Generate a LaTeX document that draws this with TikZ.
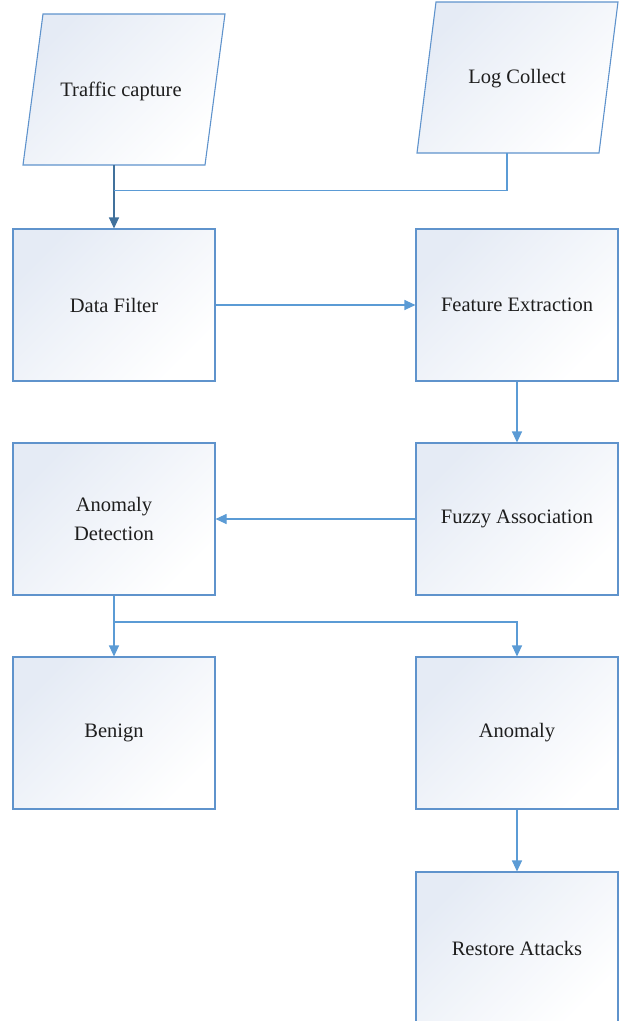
\documentclass[tikz,border=0pt]{standalone}
\usepackage{fontspec}
\setmainfont{Liberation Serif}
\usetikzlibrary{arrows.meta}
\definecolor{edgeblue}{HTML}{5F93CC}
\definecolor{linkblue}{HTML}{5B9BD5}
\definecolor{darklink}{HTML}{41719C}
\definecolor{paleblue}{HTML}{E5EBF5}
\definecolor{softblue}{HTML}{F8F9FC}
\definecolor{inktext}{HTML}{1E1E1E}
\begin{document}
\begin{tikzpicture}[x=1pt,y=-1pt,
  every node/.style={font=\fontsize{20.5}{29}\selectfont, text=inktext, align=center},
  procbox/.style={draw=edgeblue, line width=1.1pt, rectangle,
    minimum width=202pt, minimum height=152pt,
    left color=paleblue, middle color=softblue, right color=white, shading angle=45},
  iobox/.style={draw=edgeblue, line width=1.1pt,
    left color=paleblue, middle color=softblue, right color=white, shading angle=45},
  link/.style={draw=linkblue, line width=1.1pt, -{Triangle[length=11pt,width=10pt]}},
  plainlink/.style={draw=linkblue, line width=1.1pt}
]
\useasboundingbox (0,0) rectangle (620,1021);
\clip (0,0) rectangle (620,1021);

% input parallelograms
\path[iobox] (43,14) -- (225,14) -- (205,165) -- (23,165) -- cycle;
\path[iobox] (436,2) -- (618,2) -- (599,153) -- (417,153) -- cycle;
\node (traffic) at (121,91) {Traffic capture};
\node (logc) at (517,79) {Log Collect};
\coordinate (trafficout) at (114,165);
\coordinate (logout) at (507,153);
\coordinate (merge) at (114,190.5);

% processing boxes
\node[procbox] (filter)  at (114,305) {Data Filter};
\node[procbox] (feature) at (517,305) {Feature Extraction};
\node[procbox] (detect)  at (114,519) {Anomaly\\Detection};
\node[procbox] (fuzzy)   at (517,519) {Fuzzy Association};
\node[procbox] (benign)  at (114,733) {Benign};
\node[procbox] (anomaly) at (517,733) {Anomaly};
\node[procbox] (restore) at (517,948) {Restore Attacks};

% connectors
\draw[link, draw=darklink] (trafficout) -- (filter.north);
\draw[plainlink] (logout) |- (merge);
\draw[link] (filter.east) -- (feature.west);
\draw[link] (feature.south) -- (fuzzy.north);
\draw[link] (fuzzy.west) -- (detect.east);
\coordinate (split) at (114,622);
\draw[link] (detect.south) -- (benign.north);
\draw[link] (split) -| (anomaly.north);
\draw[link] (anomaly.south) -- (restore.north);
\end{tikzpicture}
\end{document}
